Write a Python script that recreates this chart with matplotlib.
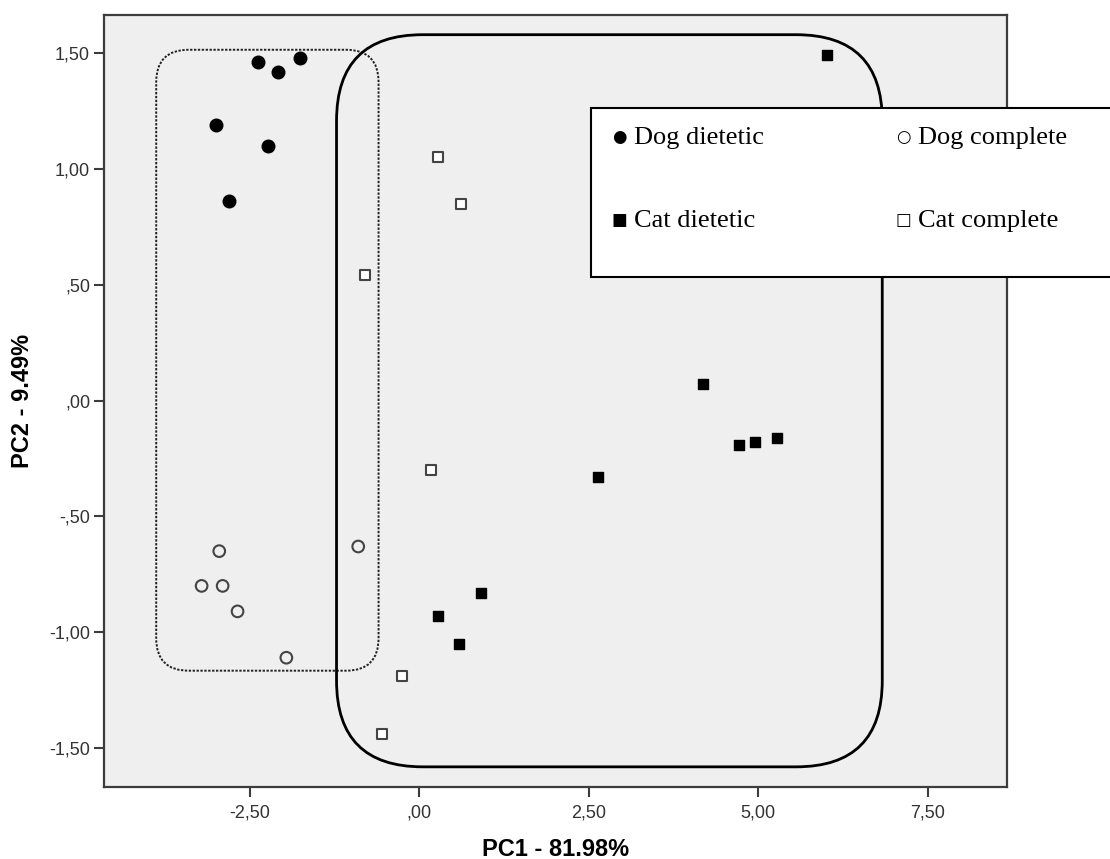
import matplotlib
matplotlib.use("Agg")
import matplotlib.pyplot as plt
from matplotlib.patches import FancyBboxPatch, Rectangle

# PCA scores
dog_dietetic_pc1 = [-2.38, -2.08, -1.76, -3.00, -2.23, -2.80]
dog_dietetic_pc2 = [1.46, 1.42, 1.48, 1.19, 1.10, 0.86]
dog_complete_pc1 = [-2.95, -3.21, -2.90, -2.68, -1.96, -0.90]
dog_complete_pc2 = [-0.65, -0.80, -0.80, -0.91, -1.11, -0.63]
cat_dietetic_pc1 = [6.02, 4.19, 4.72, 4.96, 5.28, 2.63, 0.91, 0.27, 0.59]
cat_dietetic_pc2 = [1.49, 0.07, -0.19, -0.18, -0.16, -0.33, -0.83, -0.93, -1.05]
cat_complete_pc1 = [0.28, 0.62, -0.80, 0.18, -0.25, -0.55]
cat_complete_pc2 = [1.05, 0.85, 0.54, -0.30, -1.19, -1.44]

x_ticks = [-2.5, 0.0, 2.5, 5.0, 7.5]
x_tick_labels = ["-2,50", ",00", "2,50", "5,00", "7,50"]
y_ticks = [-1.5, -1.0, -0.5, 0.0, 0.5, 1.0, 1.5]
y_tick_labels = ["-1,50", "-1,00", "-,50", ",00", ",50", "1,00", "1,50"]

legend_labels = ["Dog dietetic", "Dog complete", "Cat dietetic", "Cat complete"]
legend_symbols = ["\u25cf", "\u25cb", "\u25a0", "\u25a1"]

# group outlines (data coords): x0, y0, x1, y1
dog_group_box = (-3.88, -1.166, -0.60, 1.514)
cat_group_box = (-1.22, -1.581, 6.83, 1.579)

W, H = 1110, 859
XLIM = (-4.65, 8.67)
YLIM = (-1.668, 1.664)


def fx(px):
    return px / W


def fy(py):
    return 1 - py / H


def main():
    plt.rcParams["font.family"] = ["Liberation Sans", "DejaVu Sans"]

    fig = plt.figure(figsize=(W / 100, H / 100), dpi=100)
    ax = fig.add_axes([fx(104), fy(787), fx(1007) - fx(104), fy(15) - fy(787)])
    ax.set_facecolor("#efefef")
    ax.set_xlim(*XLIM)
    ax.set_ylim(*YLIM)

    for s in ax.spines.values():
        s.set_color("#3c3c3c")
        s.set_linewidth(1.6)

    ax.set_xticks(x_ticks)
    ax.set_xticklabels(x_tick_labels)
    ax.set_yticks(y_ticks)
    ax.set_yticklabels(y_tick_labels)
    ax.tick_params(axis="both", direction="out", length=7.5, width=1.5,
                   color="#3c3c3c", labelsize=13, labelcolor="#333333")
    ax.tick_params(axis="x", pad=5)
    ax.tick_params(axis="y", pad=2.5)

    ax.set_xlabel("PC1 - 81.98%", fontsize=17, fontweight="bold")
    ax.set_ylabel("PC2 - 9.49%", fontsize=17, fontweight="bold")
    ax.xaxis.set_label_coords(0.5, (787 - 838) / 772)
    ax.yaxis.set_label_coords((23 - 104) / 903, 0.5)
    ax.yaxis.label.set_verticalalignment("center")

    # rounded group outlines, corners kept circular in pixels
    bbox = ax.get_window_extent()
    aspect = ((YLIM[1] - YLIM[0]) / bbox.height) / ((XLIM[1] - XLIM[0]) / bbox.width)
    x0, y0, x1, y1 = dog_group_box
    ax.add_patch(FancyBboxPatch((x0, y0), x1 - x0, y1 - y0,
                                boxstyle="round,pad=0,rounding_size=0.48",
                                mutation_aspect=aspect, fill=False,
                                edgecolor="#222222", linewidth=1.4,
                                linestyle=(0, (1.2, 0.8)), zorder=2))
    x0, y0, x1, y1 = cat_group_box
    ax.add_patch(FancyBboxPatch((x0, y0), x1 - x0, y1 - y0,
                                boxstyle="round,pad=0,rounding_size=1.27",
                                mutation_aspect=aspect, fill=False,
                                edgecolor="black", linewidth=2.0, zorder=2))

    ax.scatter(dog_dietetic_pc1, dog_dietetic_pc2, s=82, marker="o",
               color="black", edgecolors="black", zorder=3)
    ax.scatter(dog_complete_pc1, dog_complete_pc2, s=70, marker="o",
               facecolors="none", edgecolors="#444444", linewidths=1.5, zorder=3)
    ax.scatter(cat_dietetic_pc1, cat_dietetic_pc2, s=50, marker="s",
               color="black", edgecolors="black", zorder=3)
    ax.scatter(cat_complete_pc1, cat_complete_pc2, s=45, marker="s",
               facecolors="white", edgecolors="#444444", linewidths=1.5, zorder=3)

    # legend box, drawn like the pasted text box in the original
    fig.patches.append(Rectangle((fx(591), fy(277)), 1.05 - fx(591), fy(108) - fy(277),
                                 transform=fig.transFigure, facecolor="white",
                                 edgecolor="black", linewidth=1.5, zorder=10,
                                 clip_on=False))
    sym_x = [619, 903, 619, 903]
    txt_x = [634, 918, 634, 918]
    base_y = [144, 144, 227, 227]
    for i in range(4):
        fig.text(fx(sym_x[i]), fy(base_y[i] - 7), legend_symbols[i], ha="center",
                 va="center", fontsize=12, family=["DejaVu Sans"], zorder=11)
        fig.text(fx(txt_x[i]), fy(base_y[i]), legend_labels[i], ha="left",
                 va="baseline", fontsize=19, family=["Liberation Serif", "DejaVu Serif"],
                 zorder=11)

    fig.savefig("out.png", dpi=100)


if __name__ == '__main__':
    main()
